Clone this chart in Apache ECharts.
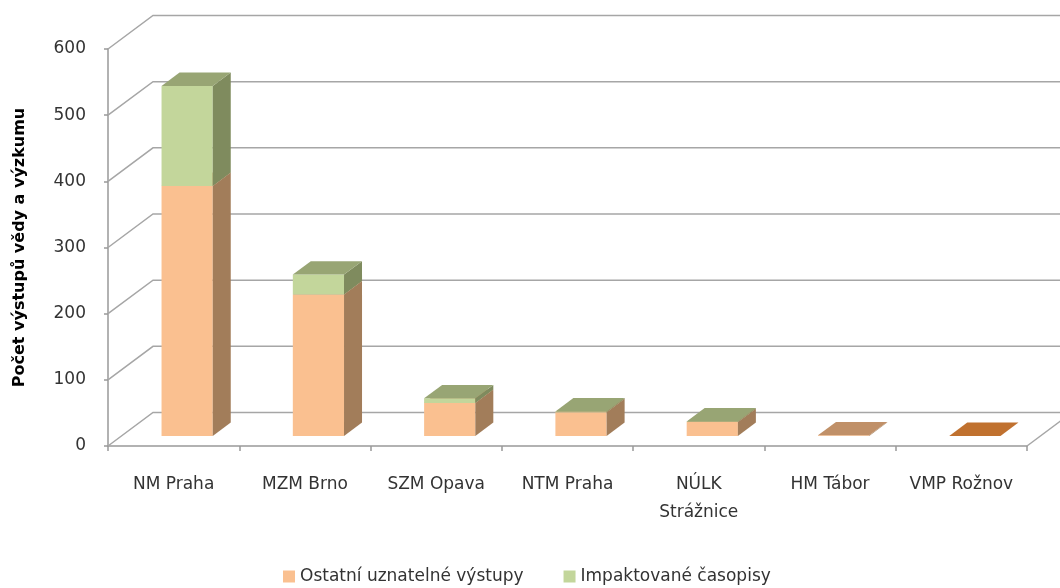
<!DOCTYPE HTML>
<html>
<head>
  <meta http-equiv="Content-Type" content="text/html,charset=utf-8"/>
  <title>Počet výstupů vědy a výzkumu</title>
  <script type="text/javascript" src="https://cdn.jsdelivr.net/npm/echarts@6/dist/echarts.min.js"></script>
  <style>
    html, body { margin: 0; padding: 0; background: #fff; }
    #container { width: 1060px; height: 588px; }
  </style>
</head>
<body>
  <div id="container"></div>
  <script type="text/javascript">
    // data
    var muzea = ['NM Praha', 'MZM Brno', 'SZM Opava', 'NTM Praha', 'NÚLK Strážnice', 'HM Tábor', 'VMP Rožnov'];
    var ostatni = [378, 214, 50, 36, 21, 1, 0];
    var impaktovane = [151, 30, 7, 1, 1, 0, 0];
    var nazvyRad = ['Ostatní uznatelné výstupy', 'Impaktované časopisy'];
    var osaY = { min: 0, max: 600, krok: 100 };

    // 3D look (pixels)
    var STENA_DX = 45, STENA_DY = 33.5;   // hloubka zadni steny
    var PRED_DX = 13.5, PRED_DY = 10;     // posun predni steny sloupce
    var HLOUBKA_DX = 18, HLOUBKA_DY = 13.4; // hloubka sloupce
    var SIRKA = 0.39;

    var barvy = {
      oranzova: { predni: '#FAC090', bok: '#A27D5A', vrch: '#C09068' },
      zelena: { predni: '#C3D69B', bok: '#7F8B5E', vrch: '#98A574' },
      nula: '#C0712F'
    };

    function steny(params, api) {
      var cs = params.coordSys;
      var left = cs.x, right = cs.x + cs.width;
      var deti = [];
      var styl = { stroke: '#A6A6A6', lineWidth: 1.5, fill: 'none' };
      for (var v = osaY.min; v <= osaY.max; v += osaY.krok) {
        var y = api.coord([0, v])[1];
        deti.push({ type: 'polyline', shape: { points: [[left, y], [left + STENA_DX, y - STENA_DY], [right + STENA_DX, y - STENA_DY]] }, style: styl });
      }
      var y0 = api.coord([0, osaY.min])[1];
      deti.push({ type: 'line', shape: { x1: right, y1: y0, x2: right + STENA_DX, y2: y0 - STENA_DY }, style: styl });
      return { type: 'group', children: deti };
    }

    function kvadr(b) {
      return function (params, api) {
        var idx = api.value(0), zaklad = api.value(1), vrchol = api.value(2);
        var p0 = api.coord([idx, zaklad]);
        var p1 = api.coord([idx, vrchol]);
        var bw = api.size([1, 0])[0] * SIRKA;
        var x0 = p0[0] + PRED_DX - bw / 2, x1 = x0 + bw;
        var yb = p0[1] - PRED_DY, yt = p1[1] - PRED_DY;
        var vrch = b.vrch;
        if (vrchol - zaklad <= 0) vrch = barvy.nula;
        return {
          type: 'group',
          children: [
            { type: 'rect', shape: { x: x0, y: yt, width: bw, height: yb - yt }, style: { fill: b.predni } },
            { type: 'polygon', shape: { points: [[x1, yb], [x1 + HLOUBKA_DX, yb - HLOUBKA_DY], [x1 + HLOUBKA_DX, yt - HLOUBKA_DY], [x1, yt]] }, style: { fill: b.bok } },
            { type: 'polygon', shape: { points: [[x0, yt], [x1, yt], [x1 + HLOUBKA_DX, yt - HLOUBKA_DY], [x0 + HLOUBKA_DX, yt - HLOUBKA_DY]] }, style: { fill: vrch } }
          ]
        };
      };
    }

    var dataOranzova = [], dataZelena = [];
    for (var i = 0; i < muzea.length; i++) {
      dataOranzova.push([i, 0, ostatni[i]]);
      if (impaktovane[i] > 0) dataZelena.push([i, ostatni[i], ostatni[i] + impaktovane[i]]);
    }

    var dom = document.getElementById('container');
    var myChart = echarts.init(dom);
    var option = {
      backgroundColor: '#fff',
      animation: false,
      textStyle: { fontFamily: 'DejaVu Sans' },
      grid: { left: 108, right: 33, top: 49, bottom: 142 },
      legend: {
        data: nazvyRad,
        left: 278,
        top: 563,
        icon: 'rect',
        itemWidth: 12,
        itemHeight: 12,
        itemGap: 40,
        textStyle: { fontSize: 17, color: '#333', fontFamily: 'DejaVu Sans' }
      },
      xAxis: {
        type: 'category',
        data: muzea,
        axisLine: { lineStyle: { color: '#999', width: 1.5 } },
        axisTick: { show: true, interval: 0, length: 5, lineStyle: { color: '#999', width: 1.5 } },
        axisLabel: {
          interval: 0,
          margin: 25,
          fontSize: 17,
          lineHeight: 28,
          color: '#333',
          formatter: function (v) { return v.length > 12 ? v.replace(' ', '\n') : v; }
        }
      },
      yAxis: {
        type: 'value',
        min: osaY.min,
        max: osaY.max,
        interval: osaY.krok,
        name: 'Počet výstupů vědy a výzkumu',
        nameLocation: 'middle',
        nameRotate: 90,
        nameGap: 80,
        nameTextStyle: { fontSize: 16, fontWeight: 'bold', color: '#000' },
        axisLine: { show: true, lineStyle: { color: '#999', width: 1.5 } },
        axisTick: { show: true, length: 4, lineStyle: { color: '#999', width: 1.5 } },
        axisLabel: { margin: 22, fontSize: 17, color: '#333' },
        splitLine: { show: false }
      },
      series: [
        {
          type: 'custom',
          silent: true,
          z: 1,
          renderItem: steny,
          data: [[0, 0]],
          encode: { x: 0, y: 1 }
        },
        {
          name: nazvyRad[0],
          type: 'custom',
          z: 2,
          itemStyle: { color: barvy.oranzova.predni },
          renderItem: kvadr(barvy.oranzova),
          data: dataOranzova,
          encode: { x: 0, y: [1, 2] }
        },
        {
          name: nazvyRad[1],
          type: 'custom',
          z: 3,
          itemStyle: { color: barvy.zelena.predni },
          renderItem: kvadr(barvy.zelena),
          data: dataZelena,
          encode: { x: 0, y: [1, 2] }
        }
      ]
    };
    myChart.setOption(option, true);
  </script>
</body>
</html>
